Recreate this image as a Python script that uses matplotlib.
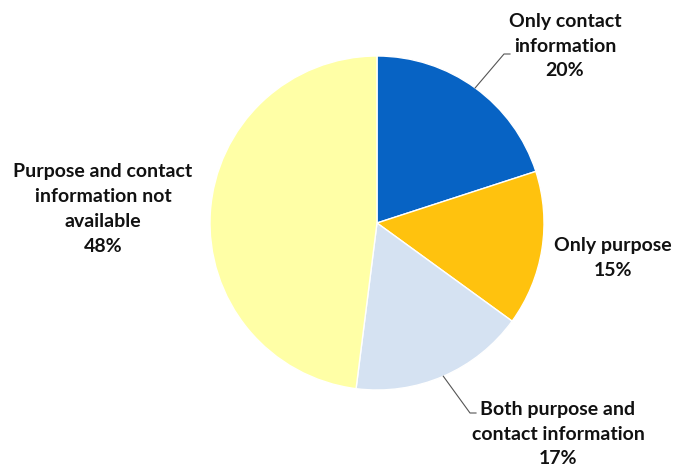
import numpy as np
import matplotlib.pyplot as plt

labels = [
    "Only contact\ninformation\n20%",
    "Only purpose\n15%",
    "Both purpose and\ncontact information\n17%",
    "Purpose and contact\ninformation not\navailable\n48%",
]
shares = [20, 15, 17, 48]
colors = ["#0763c4", "#ffc20e", "#d5e2f2", "#ffffa6"]

W, H = 677, 467
fig = plt.figure(figsize=(W / 100, H / 100), dpi=100)
ax = fig.add_axes([0, 0, 1, 1])

cx, cy, r = 377, H - 223, 167
wedges, _ = ax.pie(
    shares,
    colors=colors,
    startangle=90,
    counterclock=False,
    center=(cx, cy),
    radius=r,
    frame=True,
    wedgeprops=dict(edgecolor="white", linewidth=1),
)
ax.set_xlim(0, W)
ax.set_ylim(0, H)
ax.set_aspect("equal")
ax.axis("off")

font = dict(family=["Lato", "DejaVu Sans"], fontsize=14, fontweight="bold",
            ha="center", va="center", linespacing=1.55, color="#111111")

# label centres (pixels from top-left)
text_pos = [(565, 46), (613, 258), (558, 434), (103, 209)]
leader = [(504, 54), None, (470, 413), None]

for w, lab, (tx, ty), lp in zip(wedges, labels, text_pos, leader):
    ax.text(tx, H - ty, lab, **font)
    if lp is not None:
        ang = np.deg2rad((w.theta1 + w.theta2) / 2)
        sx, sy = cx + r * np.cos(ang), cy + r * np.sin(ang)
        ex, ey = lp[0], H - lp[1]
        ax.plot([sx, ex, ex + 6], [sy, ey, ey], color="#555555", lw=0.8)

fig.savefig("out.png", dpi=100)
